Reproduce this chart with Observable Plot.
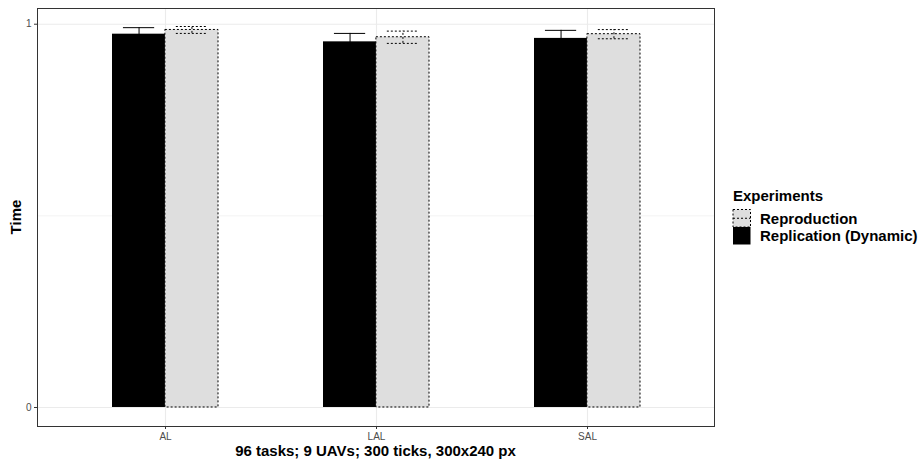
<!DOCTYPE html>
<html><head><meta charset="utf-8">
<script src="https://cdn.jsdelivr.net/npm/d3@7"></script>
<script src="https://cdn.jsdelivr.net/npm/@observablehq/plot@0.6"></script>
<style>
body{margin:0;background:#fff;}
svg{font-family:"Liberation Sans",Arial,sans-serif;}
</style></head>
<body><div id="chart"></div>
<script>
const categories = ["AL", "LAL", "SAL"];
const seriesNames = ["Reproduction", "Replication (Dynamic)"];
const replicationMean = [0.974, 0.954, 0.963];
const replicationErr = [0.017, 0.022, 0.021];
const reproductionMean = [0.985, 0.966, 0.974];
const reproductionErr = [0.009, 0.016, 0.012];
const yTicks = [0, 1];
const xTitle = "96 tasks; 9 UAVs; 300 ticks, 300x240 px";
const yTitle = "Time";
const legendTitle = "Experiments";

const rep = categories.map((c, i) => ({cat: c, mean: replicationMean[i], lo: replicationMean[i] - replicationErr[i], hi: replicationMean[i] + replicationErr[i]}));
const repro = categories.map((c, i) => ({cat: c, mean: reproductionMean[i], lo: reproductionMean[i] - reproductionErr[i], hi: reproductionMean[i] + reproductionErr[i]}));

const W = 918, H = 463;
const mL = 37, mR = 204, mT = 8, mB = 37;
const grey = "#DEDEDE";
const half = ((W - mL - mR) / 3.2) * 0.5 / 2; // half of dodged group width
const q = half / 2; // center offset of each bar
const capHalf = 15.5;
const fs = 15;

const plot = Plot.plot({
  width: W, height: H,
  marginLeft: mL, marginRight: mR, marginTop: mT, marginBottom: mB,
  style: {fontFamily: "Liberation Sans, Arial, sans-serif", background: "#fff"},
  x: {type: "band", domain: categories, paddingInner: 0.5, paddingOuter: 0.35, label: null},
  y: {domain: [-0.0496, 1.041], label: null},
  marks: [
    Plot.gridY([0.5], {stroke: "#EBEBEB", strokeOpacity: 1, strokeWidth: 0.6}),
    Plot.gridY(yTicks, {stroke: "#EBEBEB", strokeOpacity: 1, strokeWidth: 1.1}),
    Plot.gridX(categories, {stroke: "#EBEBEB", strokeOpacity: 1, strokeWidth: 1.1}),
    Plot.barY(rep, {x: "cat", y: "mean", fill: "black", insetRight: half}),
    Plot.barY(repro, {x: "cat", y: "mean", fill: grey, stroke: "black", strokeWidth: 1, strokeDasharray: "2,2", insetLeft: half}),
    Plot.ruleX(rep, {x: "cat", y1: "lo", y2: "hi", dx: -q, stroke: "black", strokeWidth: 1}),
    Plot.tickY(rep, {x: "cat", y: "hi", stroke: "black", strokeWidth: 1, insetLeft: half - q - capHalf, insetRight: half + q - capHalf}),
    Plot.tickY(rep, {x: "cat", y: "lo", stroke: "black", strokeWidth: 1, insetLeft: half - q - capHalf, insetRight: half + q - capHalf}),
    Plot.ruleX(repro, {x: "cat", y1: "lo", y2: "hi", dx: q, stroke: "black", strokeWidth: 1, strokeDasharray: "2,2"}),
    Plot.tickY(repro, {x: "cat", y: "hi", stroke: "black", strokeWidth: 1, strokeDasharray: "2,2", insetLeft: half + q - capHalf, insetRight: half - q - capHalf}),
    Plot.tickY(repro, {x: "cat", y: "lo", stroke: "black", strokeWidth: 1, strokeDasharray: "2,2", insetLeft: half + q - capHalf, insetRight: half - q - capHalf}),
    Plot.axisX({tickSize: 3, tickPadding: 3, fontSize: 10, color: "#4D4D4D", stroke: "#333", label: null}),
    Plot.axisY(yTicks, {tickSize: 3, tickPadding: 3, fontSize: 10, color: "#4D4D4D", stroke: "#333", label: null, tickFormat: d3.format("d")}),
    Plot.frame({stroke: "#333", strokeWidth: 1})
  ]
});

document.getElementById("chart").appendChild(plot);
const svg = d3.select(plot);
const px0 = mL, px1 = W - mR;
svg.append("text").attr("x", (px0 + px1) / 2).attr("y", 456).attr("text-anchor", "middle")
  .attr("font-size", fs).attr("font-weight", "bold").attr("fill", "black").text(xTitle);
svg.append("text").attr("transform", `translate(21,${(mT + H - mB) / 2}) rotate(-90)`).attr("text-anchor", "middle")
  .attr("font-size", fs).attr("font-weight", "bold").attr("fill", "black").text(yTitle);

const lg = svg.append("g").attr("text-anchor", "start");
lg.append("text").attr("x", 733).attr("y", 201).attr("text-anchor", "start").attr("font-size", fs).attr("font-weight", "bold").attr("fill", "black").text(legendTitle);
const keyFill = [grey, "black"];
seriesNames.forEach((name, i) => {
  const y0 = 209.5 + i * 17.5;
  lg.append("rect").attr("x", 733).attr("y", y0).attr("width", 17.5).attr("height", 17.5)
    .attr("fill", keyFill[i]).attr("stroke", i === 0 ? "black" : "none").attr("stroke-dasharray", "2,2");
  if (i === 0) {
    lg.append("line").attr("x1", 733).attr("x2", 750.5).attr("y1", y0 + 8.75).attr("y2", y0 + 8.75)
      .attr("stroke", "black").attr("stroke-dasharray", "2,2");
  }
  lg.append("text").attr("x", 760).attr("y", y0 + 14).attr("text-anchor", "start").attr("font-size", fs).attr("font-weight", "bold").attr("fill", "black").text(name);
});
</script></body></html>
